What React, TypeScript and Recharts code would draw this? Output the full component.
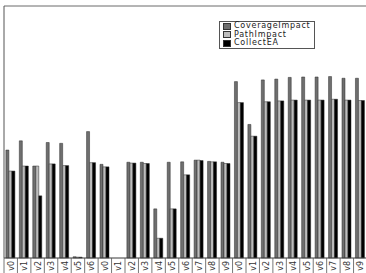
import React from 'react';
import {
  BarChart,
  Bar,
  XAxis,
  YAxis,
  CartesianGrid,
  Legend,
  ReferenceLine,
} from 'recharts';

// version labels, three suites side by side
const versions = [
  'v0', 'v1', 'v2', 'v3', 'v4', 'v5', 'v6',
  'v0', 'v1', 'v2', 'v3', 'v4', 'v5', 'v6', 'v7', 'v8', 'v9',
  'v0', 'v1', 'v2', 'v3', 'v4', 'v5', 'v6', 'v7', 'v8', 'v9',
];

const coverageImpact = [
  2.57, 2.79, 2.19, 2.75, 2.73, 0.03, 3.01,
  2.23, 0, 2.28, 2.28, 1.17, 2.28, 2.29, 2.33, 2.3, 2.28,
  4.2, 3.18, 4.24, 4.26, 4.3, 4.31, 4.31, 4.32, 4.28, 4.28,
];

const pathImpact = [
  2.07, 2.19, 2.19, 2.24, 2.2, 0.02, 2.27,
  2.17, 0, 2.26, 2.25, 0.47, 1.17, 1.98, 2.33, 2.29, 2.25,
  3.7, 2.9, 3.72, 3.74, 3.76, 3.76, 3.76, 3.78, 3.76, 3.75,
];

const collectEA = [
  2.07, 2.19, 1.48, 2.24, 2.2, 0.02, 2.27,
  2.17, 0, 2.26, 2.25, 0.47, 1.17, 1.98, 2.32, 2.29, 2.25,
  3.7, 2.9, 3.72, 3.74, 3.76, 3.76, 3.76, 3.78, 3.76, 3.75,
];

const yTicks = [0, 1, 2, 3, 4, 5, 6];

const SERIES = [
  { key: 'coverageImpact', name: 'CoverageImpact', fill: '#6f6f6f' },
  { key: 'pathImpact', name: 'PathImpact', fill: '#bdbdbd' },
  { key: 'collectEA', name: 'CollectEA', fill: '#000000' },
];

const data = versions.map((v, i) => ({
  name: v,
  coverageImpact: coverageImpact[i],
  pathImpact: pathImpact[i],
  collectEA: collectEA[i],
}));

const FONT = '"DejaVu Sans", sans-serif';

/** rotated label with a separator line at the left edge of each band */
function VersionTick(props: any) {
  const { x, y, payload, index } = props;
  const half = payload?.offset ?? 6.7;
  const isLast = index === versions.length - 1;
  return (
    <g>
      <line x1={x - half} y1={y - 2} x2={x - half} y2={y + 20} stroke="#555" strokeWidth={0.8} />
      {isLast && (
        <line x1={x + half} y1={y - 2} x2={x + half} y2={y + 20} stroke="#555" strokeWidth={0.8} />
      )}
      <text
        x={0}
        y={0}
        transform={`translate(${x + 3},${y + 1}) rotate(-90)`}
        textAnchor="end"
        fontSize={8}
        fontFamily={FONT}
        fill="#333"
      >
        {payload.value}
      </text>
    </g>
  );
}

function LegendBox() {
  return (
    <div
      style={{
        border: '1px solid #555',
        background: '#fff',
        padding: '0px 3px 0px 3px',
        fontFamily: FONT,
        fontSize: 8,
        letterSpacing: 0.75,
        lineHeight: '8.6px',
        color: '#222',
      }}
    >
      {SERIES.map((s) => (
        <div key={s.key} style={{ display: 'flex', alignItems: 'center', height: 8.6 }}>
          <span
            style={{
              display: 'inline-block',
              width: 6,
              height: 5,
              background: s.fill,
              border: '0.5px solid #333',
              marginRight: 3,
            }}
          />
          {s.name}
        </div>
      ))}
    </div>
  );
}

export default function App() {
  return (
    <div
      style={{
        position: 'absolute',
        left: 0,
        top: 0,
        width: 366,
        height: 273,
        overflow: 'hidden',
        background: '#fff',
      }}
    >
      <BarChart
        width={370}
        height={300}
        data={data}
        margin={{ top: 6, right: 3, bottom: 0, left: 0 }}
        barCategoryGap="14%"
        barGap={0}
      >
        <CartesianGrid vertical={false} stroke="#e6e6e6" />
        <XAxis
          dataKey="name"
          interval={0}
          height={42}
          tickLine={false}
          tickSize={0}
          tickMargin={2}
          axisLine={{ stroke: '#444' }}
          tick={<VersionTick />}
        />
        <YAxis
          width={4}
          domain={[0, 6]}
          ticks={yTicks}
          tick={false}
          tickSize={4}
          tickLine={{ stroke: '#555' }}
          axisLine={{ stroke: '#555' }}
        />
        <ReferenceLine y={6} stroke="#777" />
        {SERIES.map((s) => (
          <Bar
            key={s.key}
            dataKey={s.key}
            name={s.name}
            fill={s.fill}
            stroke="#2a2a2a"
            strokeWidth={0.5}
            isAnimationActive={false}
          />
        ))}
        <Legend
          layout="horizontal"
          verticalAlign="middle"
          align="center"
          content={<LegendBox />}
          wrapperStyle={{ left: 219, top: 21, width: 'auto', height: 'auto' }}
        />
      </BarChart>
    </div>
  );
}
